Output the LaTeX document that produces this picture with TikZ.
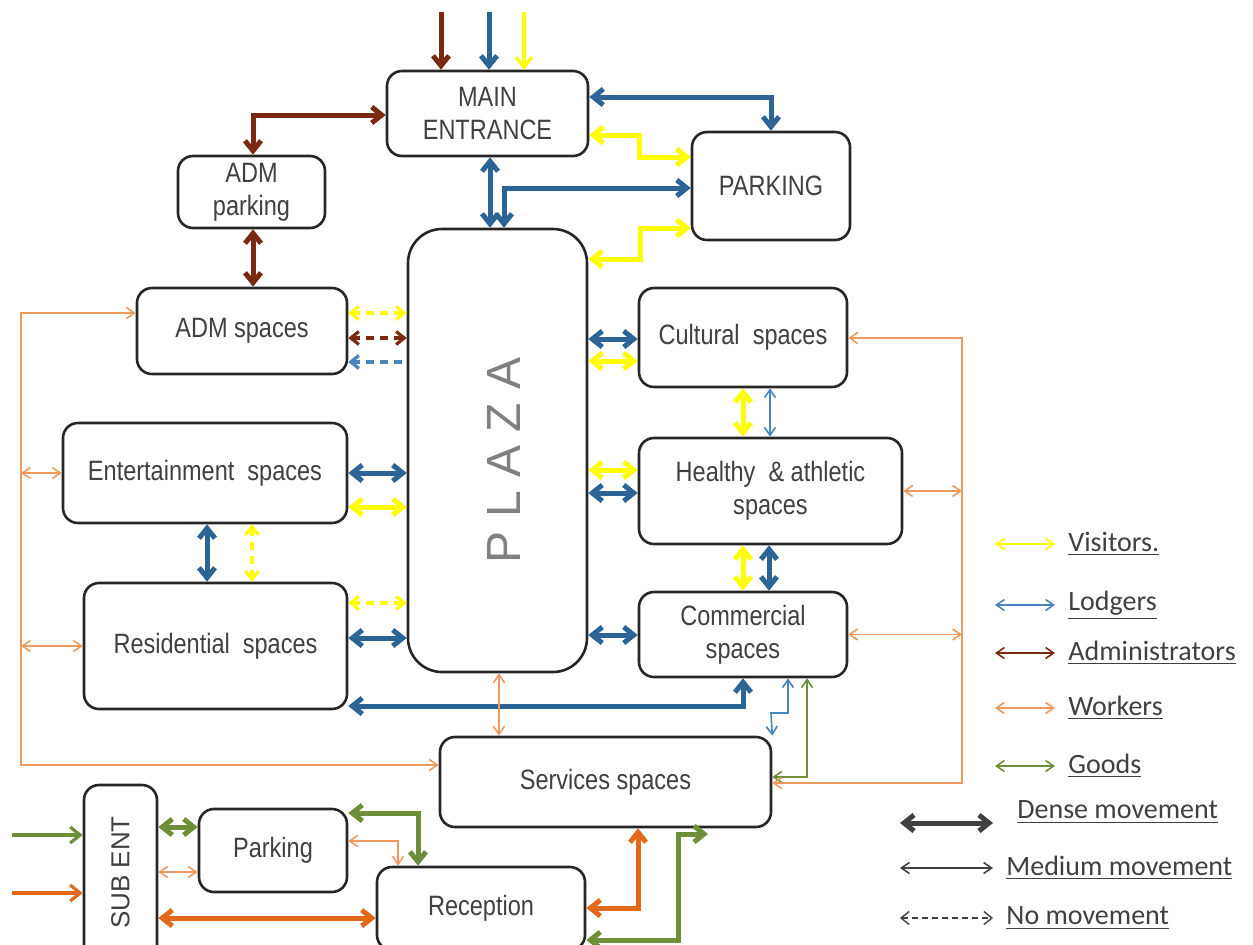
\documentclass[tikz,border=0pt]{standalone}
\usepackage{fontspec}
\usetikzlibrary{arrows.meta,positioning}
\newfontfamily\boxfont[FakeStretch=0.84]{Liberation Sans}
\newfontfamily\plainfont{Liberation Sans}
\newfontfamily\legfont{Carlito}
\definecolor{visitc}{HTML}{FFFF00}
\definecolor{lodgec}{HTML}{2C6496}
\definecolor{lodgelt}{HTML}{4A84BC}
\definecolor{admc}{HTML}{7B2A12}
\definecolor{workc}{HTML}{EE9A5E}
\definecolor{workd}{HTML}{E2691A}
\definecolor{goodc}{HTML}{6E8E3A}
\definecolor{txtc}{HTML}{404040}

\begin{document}
\begin{tikzpicture}[
    x=0.5pt, y=-0.5pt,
    room/.style={rectangle, draw=black!85, line width=1.3pt, rounded corners=7.5pt, align=center, inner sep=0pt, text=txtc, font=\boxfont\fontsize{14}{16.5}\selectfont},
    dense/.style={<->, >={Straight Barb[length=5pt,width=8pt]}, line width=2.5pt},
    medium/.style={<->, >={Straight Barb[length=4pt,width=5.5pt]}, line width=0.8pt},
    nomove/.style={<->, >={Straight Barb[length=4pt,width=6.5pt]}, line width=1.6pt, dash pattern=on 4pt off 3pt},
    legtext/.style={inner sep=0pt, text=txtc, font=\legfont\fontsize{14}{16}\selectfont}
]
    \path[use as bounding box, fill=white] (0,0) rectangle (1253,944);

    \node[room, minimum width=100.5pt, minimum height=42.5pt] (mainent) at (487.5,113.5) {MAIN\\ENTRANCE};
    \node[room, minimum width=73.5pt, minimum height=36pt] (admpark) at (251.5,192) {ADM\\parking};
    \node[room, minimum width=79pt, minimum height=54pt] (parking) at (771,186) {PARKING};
    \node[room, rounded corners=17pt, minimum width=89.5pt, minimum height=221.5pt, text=black!50, font=\plainfont\fontsize{24}{24}\selectfont] (plaza) at (497.5,450.5) {\rotatebox{90}{\raisebox{0pt}[\dimexpr\height+6pt\relax][\depth]{P L A Z A\hspace{10pt}}}};
    \node[room, minimum width=105pt, minimum height=43pt] (admsp) at (242,331) {ADM spaces};
    \node[room, minimum width=142pt, minimum height=50pt] (entsp) at (205,473) {Entertainment\ \ spaces};
    \node[room, minimum width=131.5pt, minimum height=63pt] (ressp) at (215.5,646) {Residential\ \ spaces};
    \node[room, minimum width=104pt, minimum height=49.5pt] (cultsp) at (743,337.5) {Cultural\ \ spaces};
    \node[room, minimum width=131.5pt, minimum height=53pt] (healthsp) at (770.5,491) {Healthy\ \ \& athletic\\spaces};
    \node[room, minimum width=104pt, minimum height=42.5pt] (commsp) at (743,634.5) {Commercial\\spaces};
    \node[room, minimum width=165.5pt, minimum height=45pt] (servsp) at (605.5,782) {Services spaces};
    \node[room, minimum width=36.5pt, minimum height=87.5pt, font=\plainfont\fontsize{13}{13}\selectfont] (subent) at (120.5,872.5) {\rotatebox{90}{SUB ENT}};
    \node[room, minimum width=74pt, minimum height=41.5pt] (parksm) at (273,850.5) {Parking};
    \node[room, minimum width=104pt, minimum height=41.5pt] (recep) at (481,908.5) {Reception};

    \coordinate (ina) at (441,12);
    \coordinate (inb) at (489,12);
    \coordinate (inc) at (524,12);
    \draw[dense, ->, admc] (ina) -- (mainent.north -| ina);
    \draw[dense, ->, lodgec] (inb) -- (mainent.north -| inb);
    \draw[dense, ->, visitc, line width=1.6pt] (inc) -- (mainent.north -| inc);

    \draw[dense, admc] (admpark.north -| 253,0) |- (mainent.west |- 0,115);
    \draw[dense, admc] (admpark.south -| 253,0) -- (admsp.north -| 253,0);
    \draw[dense, lodgec] (mainent.east |- 0,97) -| (parking.north);
    \draw[dense, visitc] (mainent.east |- 0,135) -- (639,135) -- (639,157) -- (parking.west |- 0,157);
    \draw[dense, lodgec] (mainent.south -| 490,0) -- (plaza.north -| 490,0);
    \draw[dense, lodgec] (plaza.north -| 504,0) |- (parking.west |- 0,188);
    \draw[dense, visitc] (plaza.east |- 0,259) -- (640,259) -- (640,228) -- (parking.west |- 0,228);

    \draw[nomove, visitc] (admsp.east |- 0,313) -- (plaza.west |- 0,313);
    \draw[nomove, admc] (admsp.east |- 0,338) -- (plaza.west |- 0,338);
    \draw[nomove, <-, lodgelt] (admsp.east |- 0,362) -- (plaza.west |- 0,362);

    \draw[dense, lodgec] (entsp.east |- 0,473) -- (plaza.west |- 0,473);
    \draw[dense, visitc] (entsp.east |- 0,507) -- (plaza.west |- 0,507);
    \draw[dense, lodgec] (entsp.south -| 207,0) -- (ressp.north -| 207,0);
    \draw[nomove, visitc] (entsp.south -| 252,0) -- (ressp.north -| 252,0);

    \draw[nomove, visitc] (ressp.east |- 0,603) -- (plaza.west |- 0,603);
    \draw[dense, lodgec] (ressp.east |- 0,638) -- (plaza.west |- 0,638);
    \draw[dense, lodgec] (commsp.south -| 743,0) |- (ressp.east |- 0,706);

    \draw[dense, lodgec] (plaza.east |- 0,339) -- (cultsp.west |- 0,339);
    \draw[dense, visitc] (plaza.east |- 0,361) -- (cultsp.west |- 0,361);
    \draw[dense, visitc] (plaza.east |- 0,470) -- (healthsp.west |- 0,470);
    \draw[dense, lodgec] (plaza.east |- 0,493) -- (healthsp.west |- 0,493);
    \draw[dense, lodgec] (plaza.east |- 0,635) -- (commsp.west |- 0,635);
    \draw[dense, visitc] (cultsp.south -| 743,0) -- (healthsp.north -| 743,0);
    \draw[medium, lodgelt] (cultsp.south -| 770,0) -- (healthsp.north -| 770,0);
    \draw[dense, visitc] (healthsp.south -| 743,0) -- (commsp.north -| 743,0);
    \draw[dense, lodgec] (healthsp.south -| 769,0) -- (commsp.north -| 769,0);

    \draw[medium, lodgelt] (commsp.south -| 788,0) |- (771,713) -- (servsp.north east);
    \draw[medium, goodc] (commsp.south -| 807,0) |- (servsp.east |- 0,777);

    \coordinate (wl) at (21,0);
    \coordinate (wr) at (962,0);
    \draw[medium, workc] (admsp.west |- 0,313) -| (wl |- 0,765) -- (servsp.west |- 0,765);
    \draw[medium, workc] (entsp.west) -- (wl |- entsp.west);
    \draw[medium, workc] (ressp.west) -- (wl |- ressp.west);
    \draw[medium, workc] (cultsp.east |- 0,338) -| (wr |- 0,783) -- (servsp.east |- 0,783);
    \draw[medium, workc] (healthsp.east) -- (wr |- healthsp.east);
    \draw[medium, workc] (commsp.east) -- (wr |- commsp.east);
    \draw[medium, workc] (plaza.south -| 499,0) -- (servsp.north -| 499,0);

    \coordinate (ing) at (12,835);
    \coordinate (ino) at (12,893);
    \draw[dense, ->, goodc, line width=1.6pt] (ing) -- (subent.west |- ing);
    \draw[dense, ->, workd, line width=1.6pt] (ino) -- (subent.west |- ino);
    \draw[dense, goodc] (subent.east |- 0,827) -- (parksm.west |- 0,827);
    \draw[medium, workc] (subent.east |- 0,872) -- (parksm.west |- 0,872);
    \draw[dense, workd] (subent.east |- 0,918) -- (recep.west |- 0,918);
    \draw[dense, goodc] (parksm.east |- 0,813) -| (recep.north -| 418,0);
    \draw[medium, workc] (parksm.east |- 0,841) -| (recep.north -| 398,0);
    \draw[dense, workd] (recep.east |- 0,908) -| (servsp.south -| 638,0);
    \coordinate (gend) at (708,834);
    \draw[dense, goodc] (recep.east |- 0,940) -| (678,834) -- (gend);

    \coordinate (lv1) at (995,544);
    \coordinate (lv2) at (1055,544);
    \draw[medium, visitc] (lv1) -- (lv2);
    \node[legtext, right=6.5pt of lv2] (lvis) {\underline{Visitors.}};
    \coordinate (ll1) at (995,605);
    \coordinate (ll2) at (1055,605);
    \draw[medium, lodgelt] (ll1) -- (ll2);
    \node[legtext, right=6.5pt of ll2] (llod) {\underline{Lodgers}};
    \coordinate (la1) at (995,653);
    \coordinate (la2) at (1055,653);
    \draw[medium, admc] (la1) -- (la2);
    \node[legtext, right=6.5pt of la2] (ladm) {\underline{Administrators}};
    \coordinate (lw1) at (995,708);
    \coordinate (lw2) at (1055,708);
    \draw[medium, workc] (lw1) -- (lw2);
    \node[legtext, right=6.5pt of lw2] (lwork) {\underline{Workers}};
    \coordinate (lg1) at (995,766);
    \coordinate (lg2) at (1055,766);
    \draw[medium, goodc] (lg1) -- (lg2);
    \node[legtext, right=6.5pt of lg2] (lgood) {\underline{Goods}};

    \coordinate (ld1) at (900,823);
    \coordinate (ld2) at (993,823);
    \draw[dense, txtc] (ld1) -- (ld2);
    \node[legtext, right=12pt of ld2, yshift=5.5pt] (ldense) {\underline{Dense movement}};
    \coordinate (lm1) at (900,868);
    \coordinate (lm2) at (993,868);
    \draw[medium, txtc] (lm1) -- (lm2);
    \node[legtext, right=6.5pt of lm2] (lmed) {\underline{Medium movement}};
    \coordinate (ln1) at (900,918);
    \coordinate (ln2) at (993,918);
    \draw[nomove, txtc, line width=0.7pt, dash pattern=on 3pt off 2pt] (ln1) -- (ln2);
    \node[legtext, right=6.5pt of ln2] (lno) {\underline{No movement}};
\end{tikzpicture}
\end{document}
